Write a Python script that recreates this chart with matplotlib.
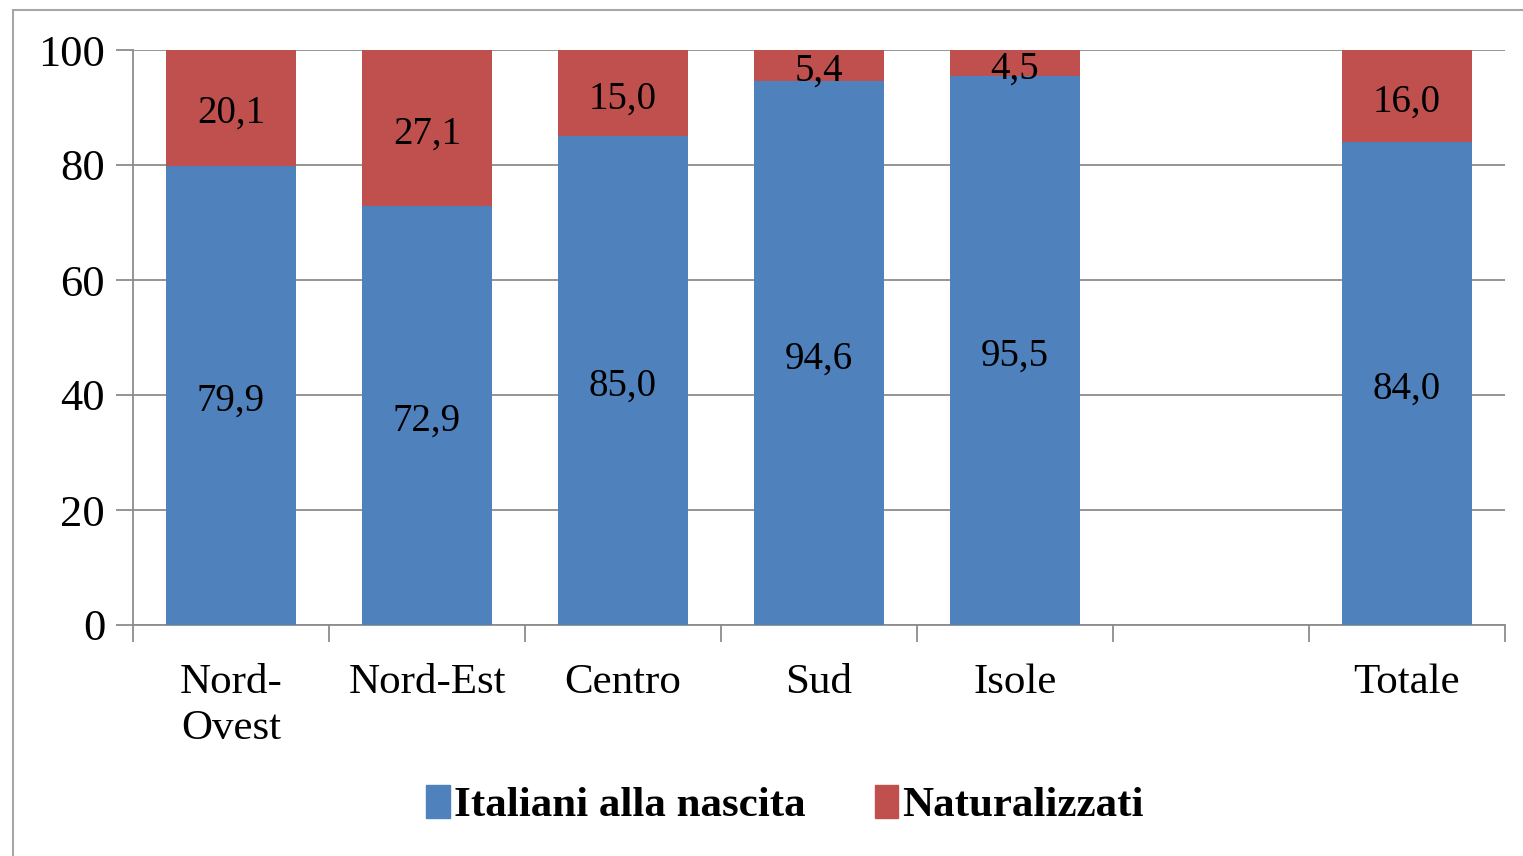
import matplotlib.pyplot as plt
import numpy as np
from matplotlib.patches import Rectangle

plt.rcParams["font.family"] = ["Liberation Serif", "DejaVu Serif"]

BLUE = "#4F81BD"
RED = "#C0504D"

categories = ["Nord-\nOvest", "Nord-Est", "Centro", "Sud", "Isole", "", "Totale"]
italiani = [79.9, 72.9, 85.0, 94.6, 95.5, None, 84.0]
naturalizzati = [20.1, 27.1, 15.0, 5.4, 4.5, None, 16.0]

fig = plt.figure(figsize=(15.23, 8.56), dpi=100)
fig.patches.append(Rectangle((13 / 1523, -0.01), 1.02, 1 - 10 / 856 + 0.01,
                             transform=fig.transFigure, fill=False,
                             edgecolor="#A6A6A6", linewidth=1.5))
ax = fig.add_axes([133 / 1523, 1 - 625 / 856, (1505 - 133) / 1523, (625 - 50) / 856])

x = np.arange(len(categories))
width = 0.66
for xi, it, na in zip(x, italiani, naturalizzati):
    if it is None:
        continue
    ax.bar(xi, it, width, color=BLUE, zorder=3)
    ax.bar(xi, na, width, bottom=it, color=RED, zorder=3)
    ax.text(xi, it / 2 - 1, f"{it:.1f}".replace(".", ","), ha="center", va="center",
            fontsize=28, zorder=4)
    ax.text(xi, it + na / 2 - 1, f"{na:.1f}".replace(".", ","), ha="center", va="center",
            fontsize=28, zorder=4)

ax.set_xlim(-0.5, len(categories) - 0.5)
ax.set_ylim(0, 100)
ax.set_yticks(range(0, 101, 20))
ax.yaxis.grid(True, color="#8C8C8C", linewidth=1.3, zorder=0)
ax.tick_params(axis="y", labelsize=32, length=12, width=1.3, color="#8C8C8C", pad=8)

ax.set_xticks(x)
ax.set_xticklabels(categories, fontsize=31, linespacing=1.25)
ax.tick_params(axis="x", length=0, pad=28)
ax.set_xticks(np.arange(-0.5, len(categories), 1), minor=True)
ax.tick_params(axis="x", which="minor", length=12, width=1.3, color="#8C8C8C")

for s in ["top", "right"]:
    ax.spines[s].set_visible(False)
for s in ["left", "bottom"]:
    ax.spines[s].set_color("#8C8C8C")
    ax.spines[s].set_linewidth(1.3)

handles = [Rectangle((0, 0), 1, 1, color=BLUE), Rectangle((0, 0), 1, 1, color=RED)]
fig.legend(handles, ["Italiani alla nascita", "Naturalizzati"], loc="center",
           bbox_to_anchor=(785 / 1523, 1 - 805 / 856), ncol=2, frameon=False,
           prop={"size": 31, "weight": "bold"}, handlelength=0.55, handleheight=0.8,
           handletextpad=0.1, columnspacing=1.6)

fig.savefig("out.png", dpi=100)
